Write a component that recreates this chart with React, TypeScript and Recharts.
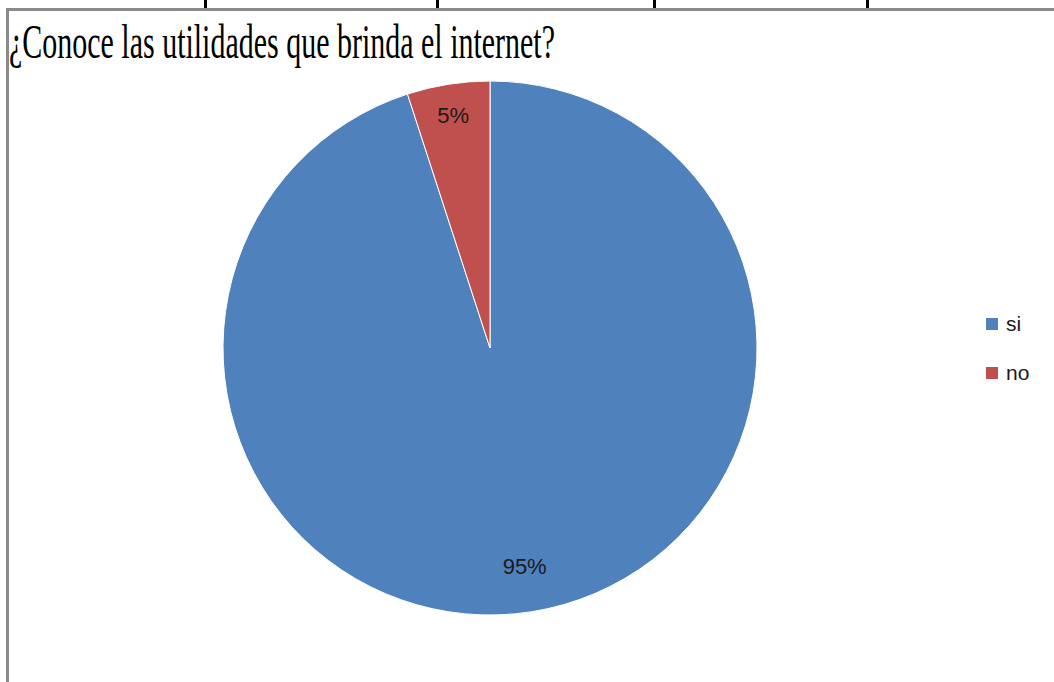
import React from "react";
import { PieChart, Pie, Cell, Legend } from "recharts";

const categories = ["si", "no"];
const values = [95, 5];
const colors = ["#4F81BD", "#C0504D"];
const tableLineXs = [205, 437, 654, 867];

const data = categories.map((name, i) => ({ name, value: values[i] }));

const RAD = Math.PI / 180;

function renderLabel(props: any) {
  const { cx, cy, midAngle, outerRadius, value, percent } = props;
  // small slices get their label pushed nearer the rim, like Excel's best fit
  const r = outerRadius * (percent < 0.1 ? 0.88 : 0.83);
  const x = cx + r * Math.cos(-midAngle * RAD);
  const y = cy + r * Math.sin(-midAngle * RAD);
  return (
    <text
      x={x}
      y={y}
      textAnchor="middle"
      dominantBaseline="central"
      fill="#1a1a1a"
      fontSize={22}
      fontFamily="'Liberation Sans', Arial, sans-serif"
    >
      {`${value}%`}
    </text>
  );
}

function renderLegend() {
  return (
    <div style={{ fontFamily: "'Liberation Sans', Arial, sans-serif", fontSize: 21, color: "#1a1a1a" }}>
      {categories.map((name, i) => (
        <div key={name} style={{ display: "flex", alignItems: "center", height: 24, marginBottom: i === 0 ? 25 : 0 }}>
          <span style={{ display: "inline-block", width: 12, height: 12, background: colors[i], marginRight: 8 }} />
          <span>{name}</span>
        </div>
      ))}
    </div>
  );
}

export default function App() {
  return (
    <div style={{ position: "absolute", left: 0, top: 0, width: 1054, height: 682, background: "#ffffff", overflow: "hidden" }}>
      {/* table rules above the chart */}
      {tableLineXs.map((x) => (
        <div key={x} style={{ position: "absolute", left: x - 1, top: 0, width: 3, height: 9, background: "#000" }} />
      ))}
      {/* chart frame */}
      <div style={{ position: "absolute", left: 6, top: 8, width: 1048, height: 3, background: "#8a8a8a" }} />
      <div style={{ position: "absolute", left: 6, top: 8, width: 3, height: 674, background: "#8a8a8a" }} />
      <svg style={{ position: "absolute", left: 0, top: 0 }} width={1054} height={80}>
        <text
          x={9}
          y={58}
          fontSize={48}
          fontFamily="'Liberation Serif', 'Times New Roman', serif"
          fill="#000"
          textLength={546}
          lengthAdjust="spacingAndGlyphs"
        >
          ¿Conoce las utilidades que brinda el internet?
        </text>
      </svg>
      <div style={{ position: "absolute", left: 0, top: 0 }}>
        <PieChart width={1054} height={682} margin={{ top: 0, right: 0, bottom: 0, left: 0 }}>
          <Pie
            data={data}
            dataKey="value"
            nameKey="name"
            cx={490}
            cy={348}
            outerRadius={267}
            startAngle={90}
            endAngle={-270}
            stroke="#ffffff"
            strokeWidth={1}
            label={renderLabel}
            labelLine={false}
            isAnimationActive={false}
          >
            {data.map((d, i) => (
              <Cell key={d.name} fill={colors[i]} />
            ))}
          </Pie>
          <Legend
            layout="vertical"
            content={renderLegend}
            wrapperStyle={{ position: "absolute", left: 986, top: 312, width: 70 }}
          />
        </PieChart>
      </div>
    </div>
  );
}
